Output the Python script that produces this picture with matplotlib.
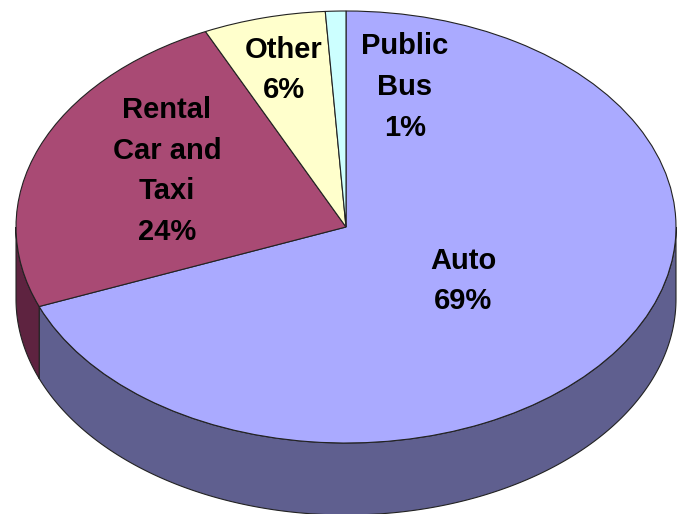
import numpy as np
import matplotlib
matplotlib.use("Agg")
import matplotlib.pyplot as plt
from matplotlib.patches import Polygon

################################################################
# data

categories = ['Auto', 'Rental\nCar and\nTaxi', 'Other', 'Public\nBus']
shares = [69, 24, 6, 1]
top_colors = ['#AAAAFF', '#A94A74', '#FFFFCC', '#CCFFFF']
side_colors = ['#5F5F8F', '#5E2340', '#8F8F72', '#728F8F']

################################################################
# geometry of the drawing (pixels)

W, H = 678, 514
CX, CY = 346, 227          # centre of the top face, from the top
RX, RY = 330, 216          # half axes of the top ellipse
DEPTH = 72                 # thickness of the pie


def px(x, y):
    """pixel (from top left) -> unit circle data coords"""
    return (x - CX) / RX, (CY - y) / RY


fig = plt.figure(figsize=(W / 100, H / 100), dpi=100)
ax = fig.add_axes([0, 0, 1, 1])

wedges, _ = ax.pie(shares, startangle=90, counterclock=False, colors=top_colors,
                   wedgeprops=dict(edgecolor='#222222', linewidth=0.8, zorder=3))
ax.set_aspect('auto')
x0, y0 = px(0, H)
x1, y1 = px(W, 0)
ax.set_xlim(x0, x1)
ax.set_ylim(y0, y1)
ax.axis('off')

# side walls, only the front half (180..360 deg) is visible
d = DEPTH / RY
for w, col in zip(wedges, side_colors):
    t1, t2 = sorted([w.theta1, w.theta2])
    for shift in (0, 360, -360):
        a, b = max(t1 + shift, 180), min(t2 + shift, 360)
        if b <= a:
            continue
        t = np.radians(np.linspace(a, b, 200))
        top = np.column_stack([np.cos(t), np.sin(t)])
        bot = np.column_stack([np.cos(t[::-1]), np.sin(t[::-1]) - d])
        ax.add_patch(Polygon(np.vstack([top, bot]), closed=True, facecolor=col,
                             edgecolor='#222222', linewidth=0.8, zorder=2))

# labels
label_pos = [(463, 281), (167, 171), (284, 70), (405, 87)]
for cat, val, (lx, ly) in zip(categories, shares, label_pos):
    tx, ty = px(lx, ly)
    ax.text(tx, ty, cat + '\n' + str(val) + '%', ha='center', va='center',
            fontsize=21, fontweight='bold', family='Liberation Sans',
            linespacing=1.58, zorder=5)

fig.savefig('out.png', dpi=100)
